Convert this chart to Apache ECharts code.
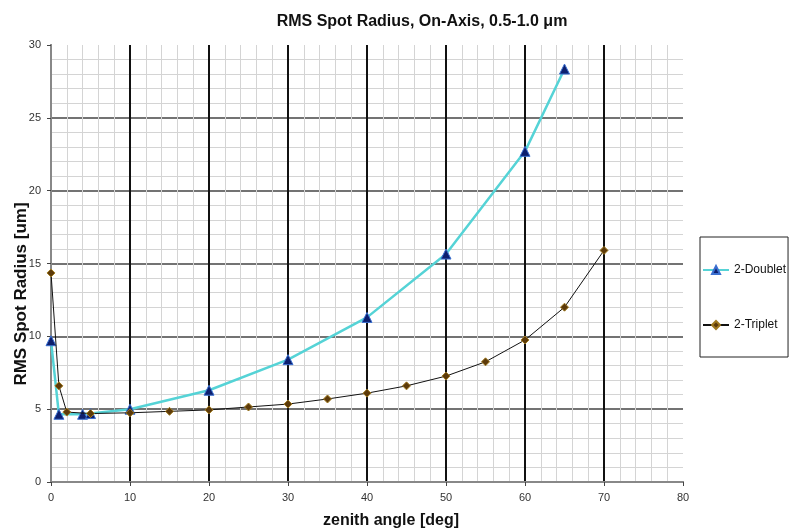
<!DOCTYPE html>
<html>
<head>
<meta charset="utf-8">
<script src="https://cdn.jsdelivr.net/npm/echarts@6/dist/echarts.min.js"></script>
<style>
  html, body { margin: 0; padding: 0; background: #fff; }
  #chart { width: 792px; height: 531px; }
</style>
</head>
<body>
<div id="chart"></div>
<script>
// zenith angle [deg] and RMS spot radius [um]
const doubletAngles = [0, 1, 4, 5, 10, 20, 30, 40, 50, 60, 65];
const doubletRadius = [9.7, 4.65, 4.65, 4.7, 5.0, 6.3, 8.4, 11.3, 15.65, 22.7, 28.35];
const tripletAngles = [0, 1, 2, 5, 10, 15, 20, 25, 30, 35, 40, 45, 50, 55, 60, 65, 70];
const tripletRadius = [14.35, 6.6, 4.8, 4.7, 4.75, 4.85, 4.95, 5.15, 5.35, 5.7, 6.1, 6.6, 7.27, 8.25, 9.75, 12.0, 15.9];

const seriesNames = ['2-Doublet', '2-Triplet'];

function pairs(xs, ys) {
    return xs.map(function (x, i) { return [x, ys[i]]; });
}

const chart = echarts.init(document.getElementById('chart'));
const font = 'Liberation Sans, Arial, sans-serif';

const options = {
    animation: false,
    title: {
        text: 'RMS Spot Radius, On-Axis, 0.5-1.0 \u03bcm',
        left: 417,
        textAlign: 'center',
        top: 9,
        textStyle: { fontFamily: font, fontSize: 16, fontWeight: 'bold', color: '#111' }
    },
    // y axis title, placed by hand so it can sit below the plot centre like the original
    graphic: [{
        type: 'text',
        x: 30,
        y: 294,
        rotation: Math.PI / 2,
        style: {
            text: 'RMS Spot Radius [um]',
            font: 'bold 17px Liberation Sans, Arial, sans-serif',
            fill: '#111',
            align: 'center',
            verticalAlign: 'bottom'
        }
    }],
    legend: {
        orient: 'vertical',
        left: 700,
        top: 237,
        width: 72,
        height: 108,
        padding: [27, 2, 26, 2],
        itemGap: 43,
        itemWidth: 26,
        itemHeight: 10,
        borderColor: '#222',
        borderWidth: 1,
        textStyle: { fontFamily: font, fontSize: 12, color: '#111' },
        data: seriesNames
    },
    grid: { left: 51, right: 109, top: 45, bottom: 49, containLabel: false, outerBoundsMode: 'none' },
    xAxis: [{
        type: 'value',
        min: 0,
        max: 80,
        interval: 10,
        name: 'zenith angle [deg]',
        nameLocation: 'middle',
        nameGap: 31,
        nameTextStyle: { fontFamily: font, fontSize: 16, fontWeight: 'bold', color: '#111', padding: [0, 0, 0, 48] },
        axisLine: { show: true, lineStyle: { color: '#777', width: 2 } },
        axisTick: { show: true, length: 4, lineStyle: { color: '#444' } },
        axisLabel: { fontFamily: font, fontSize: 11, color: '#333', margin: 10 },
        splitLine: { show: true, showMinLine: false, showMaxLine: false, lineStyle: { color: '#111', width: 2 } },
        minorTick: { show: false, splitNumber: 5 },
        minorSplitLine: { show: true, lineStyle: { color: '#d4d4d4', width: 1 } }
    }, {
        type: 'value',
        position: 'top',
        min: 0,
        max: 80,
        axisLine: { show: true, lineStyle: { color: '#888', width: 2 } },
        axisTick: { show: false },
        axisLabel: { show: false },
        splitLine: { show: false }
    }],
    yAxis: [{
        type: 'value',
        min: 0,
        max: 30,
        interval: 5,
        axisLine: { show: true, lineStyle: { color: '#777', width: 2 } },
        axisTick: { show: true, length: 4, lineStyle: { color: '#444' } },
        axisLabel: { fontFamily: font, fontSize: 11, color: '#333', margin: 10 },
        splitLine: { show: true, showMinLine: false, showMaxLine: false, lineStyle: { color: '#444', width: 1.5 } },
        minorTick: { show: false, splitNumber: 5 },
        minorSplitLine: { show: true, lineStyle: { color: '#d4d4d4', width: 1 } }
    }, {
        type: 'value',
        position: 'right',
        min: 0,
        max: 30,
        axisLine: { show: true, lineStyle: { color: '#888', width: 2 } },
        axisTick: { show: false },
        axisLabel: { show: false },
        splitLine: { show: false }
    }],
    series: [{
        name: seriesNames[0],
        type: 'line',
        data: pairs(doubletAngles, doubletRadius),
        symbol: 'triangle',
        symbolSize: 10,
        lineStyle: { color: '#55d3d6', width: 2.5 },
        itemStyle: { color: '#0d1f6e', borderColor: '#3a6fd0', borderWidth: 1 },
        z: 3
    }, {
        name: seriesNames[1],
        type: 'line',
        data: pairs(tripletAngles, tripletRadius),
        symbol: 'diamond',
        symbolSize: 8,
        lineStyle: { color: '#111', width: 1 },
        itemStyle: { color: '#5c3a0a', borderColor: '#a07a20', borderWidth: 1 },
        z: 4
    }]
};
chart.setOption(options);
</script>
</body>
</html>
